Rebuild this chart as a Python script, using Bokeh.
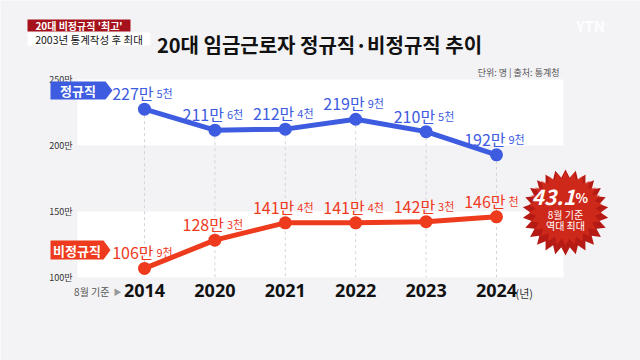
import numpy as np
from bokeh.plotting import figure
from bokeh.models import Range1d
from bokeh.core.properties import value
from bokeh.embed import file_html
from bokeh.resources import INLINE

# ---------------- data ----------------
years = ["2014", "2020", "2021", "2022", "2023", "2024"]
regular = [227.5, 211.6, 212.4, 219.9, 210.5, 192.9]          # 만 명
regular_main = ["227만", "211만", "212만", "219만", "210만", "192만"]
regular_sub = ["5천", "6천", "4천", "9천", "5천", "9천"]
nonregular = [106.9, 128.3, 141.4, 141.4, 142.3, 146.0]
nonregular_main = ["106만", "128만", "141만", "141만", "142만", "146만"]
nonregular_sub = ["9천", "3천", "4천", "4천", "3천", "천"]
y_ticks = [100, 150, 200, 250]
y_tick_labels = ["100만", "150만", "200만", "250만"]
bands = [(100, 150), (200, 250)]

FONT = value("Noto Sans CJK KR")
BG = "#f3f3f6"
BLUE = "#3d5ce0"
RED = "#ee3a1d"

W, H = 640, 360
# pixel geometry of the category axis / value axis (screen px in 640x360 page)
X0_PX, X_STEP = 144.0, 70.4
Y100_PX, Y_SCALE = 277.0, 1.32


def dx(sx):
    return (sx - X0_PX) / X_STEP


def dy(sy):
    return 100 + (Y100_PX - sy) / Y_SCALE


p = figure(width=W, height=H, output_backend="svg", toolbar_location=None,
           x_axis_location=None, y_axis_location=None,
           x_range=Range1d(dx(0), dx(W)), y_range=Range1d(dy(H), dy(0)),
           min_border=0, background_fill_color=BG, border_fill_color=BG)
p.outline_line_color = None
p.xgrid.visible = False
p.ygrid.visible = False

xs = list(range(len(years)))

# white bands
p.quad(left=[dx(77)] * 2, right=[dx(563)] * 2,
       bottom=[b[0] for b in bands], top=[b[1] for b in bands],
       fill_color="white", line_color=None)

# dashed guides
p.segment(x0=xs, y0=regular, x1=xs, y1=[100] * len(xs),
          line_color="#d4d4d8", line_width=1, line_dash="3 3")

# lines + markers
p.line(xs, regular, line_color=BLUE, line_width=5)
p.scatter(xs, regular, size=13, fill_color=BLUE, line_color=None)
p.line(xs, nonregular, line_color=RED, line_width=5)
p.scatter(xs, nonregular, size=13, fill_color=RED, line_color=None)

# value labels
off = 16 / Y_SCALE
for vals, mains, subs, col in [(regular, regular_main, regular_sub, BLUE),
                               (nonregular, nonregular_main, nonregular_sub, RED)]:
    ly = [v + off for v in vals]
    p.text(xs, ly, text=mains, text_font=FONT, text_font_size="16px",
           text_color=col, text_align="right", text_baseline="alphabetic", x_offset=9)
    p.text(xs, ly, text=subs, text_font=FONT, text_font_size="11px",
           text_color=col, text_align="left", text_baseline="alphabetic", x_offset=12)

# y tick labels
p.text([dx(72)] * len(y_ticks), y_ticks, text=y_tick_labels, text_font=FONT,
       text_font_size="9px", text_color="#333333", text_align="right", text_baseline="middle")

# x tick labels
p.text(xs, [dy(290)] * len(xs), text=years, text_font=value("Noto Sans"), text_font_size="18px",
       text_font_style="bold", text_color="#111111", text_align="center", text_baseline="middle")
p.text([xs[-1]], [dy(292)], text=["(년)"], text_font=FONT, text_font_size="11px",
       text_color="#333333", text_align="left", text_baseline="middle", x_offset=19)
p.text([dx(109)], [dy(291)], text=["8월 기준"], text_font=FONT, text_font_size="10px",
       text_color="#555555", text_align="right", text_baseline="middle")
p.text([dx(117)], [dy(291)], text=["▶"], text_font=FONT, text_font_size="8px",
       text_color="#999999", text_align="center", text_baseline="middle")

# series tags
for top, bot, tip, col, label in [(81, 99, 112, BLUE, "정규직"), (240, 259, 110, RED, "비정규직")]:
    mid = (top + bot) / 2
    px = [dx(50), dx(tip - 7), dx(tip), dx(tip - 7), dx(50)]
    py = [dy(top), dy(top), dy(mid), dy(bot), dy(bot)]
    p.patch(px, py, fill_color=col, line_color=None)
    p.text([dx((50 + tip - 7) / 2)], [dy(mid)], text=[label], text_font=FONT,
           text_font_size="13px", text_font_style="bold", text_color="white",
           text_align="center", text_baseline="middle")

# title
p.text([dx(319)], [dy(44)], text=["20대 임금근로자 정규직·비정규직 추이"], text_font=FONT,
       text_font_size="20px", text_font_style="bold", text_color="#111111",
       text_align="center", text_baseline="middle")

# top-left badges
p.quad(left=[dx(27)], right=[dx(130)], top=[dy(19)], bottom=[dy(31)],
       fill_color="#a5121b", line_color=None)
p.text([dx(78.5)], [dy(25)], text=["20대 비정규직 '최고'"], text_font=FONT,
       text_font_size="10px", text_font_style="bold", text_color="white",
       text_align="center", text_baseline="middle")
p.quad(left=[dx(27)], right=[dx(150)], top=[dy(32)], bottom=[dy(45)],
       fill_color="white", line_color=None)
p.text([dx(88.5)], [dy(38.5)], text=["2003년 통계작성 후 최대"], text_font=FONT,
       text_font_size="10.5px", text_color="#111111", text_align="center", text_baseline="middle")

# unit / source
p.text([dx(563)], [dy(72)], text=["단위: 명  |  출처: 통계청"], text_font=FONT,
       text_font_size="9px", text_color="#555555", text_align="right", text_baseline="middle")

# watermark
p.text([dx(590)], [dy(25)], text=["YTN"], text_font=FONT, text_font_size="15px",
       text_font_style="bold", text_color="white", text_alpha=0.9,
       text_align="center", text_baseline="middle")

# starburst badge
cx, cy = 565, 212
n = 26
ang = np.linspace(0, 2 * np.pi, 2 * n, endpoint=False) - np.pi / 2
rad = np.where(np.arange(2 * n) % 2 == 0, 43, 35)
p.patch(dx(cx + rad * np.cos(ang)), dy(cy + rad * np.sin(ang)),
        fill_color="#b51a14", line_color=None)
rad2 = rad * 0.86
p.patch(dx(cx + rad2 * np.cos(ang)), dy(cy - 4 + rad2 * np.sin(ang)),
        fill_color="#dc2f1e", fill_alpha=0.65, line_color=None)
p.text([dx(575)], [dy(196)], text=["43.1"], text_font=FONT, text_font_size="21px",
       text_font_style="bold italic", text_color="white",
       text_align="right", text_baseline="middle")
p.text([dx(575)], [dy(197)], text=["%"], text_font=FONT, text_font_size="13px",
       text_font_style="bold", text_color="white", text_align="left", text_baseline="middle")
p.text([dx(565)], [dy(214)], text=["8월 기준"], text_font=FONT, text_font_size="10px",
       text_color="white", text_align="center", text_baseline="middle")
p.text([dx(565)], [dy(225)], text=["역대 최대"], text_font=FONT, text_font_size="10px",
       text_color="white", text_align="center", text_baseline="middle")

html = file_html(p, INLINE)
html = html.replace("<body>", '<body style="background:%s">' % BG, 1)
open("out.html", "w").write(html)
